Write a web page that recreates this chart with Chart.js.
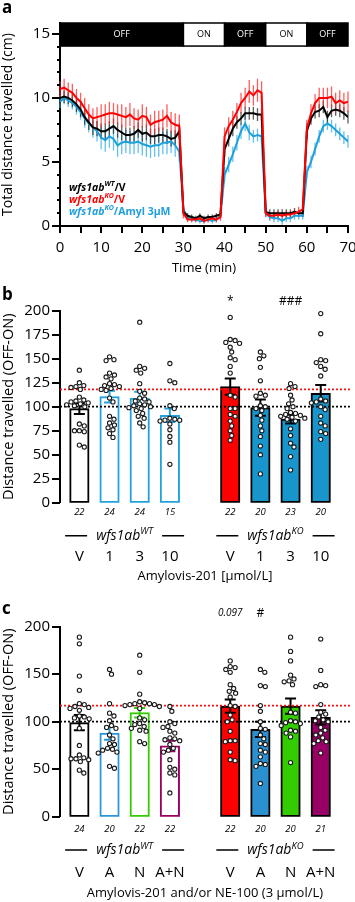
<!DOCTYPE html>
<html><head><meta charset="utf-8">
<script src="https://cdn.jsdelivr.net/npm/chart.js@4.4.1/dist/chart.umd.min.js"></script>
<style>
html,body{margin:0;padding:0;background:#fff;}
#wrap{position:relative;width:355px;height:902px;overflow:hidden;}
canvas{position:absolute;left:0;}
</style></head>
<body><div id="wrap">
<canvas id="ca" width="355" height="280" style="top:0px"></canvas>
<canvas id="cb" width="355" height="310" style="top:280px"></canvas>
<canvas id="cc" width="355" height="312" style="top:590px"></canvas>
</div>
<script>
// ================= DATA =================
// Panel a : time course (min)
const timeMin = [0,1,2,3,4,5,6,7,8,9,10,11,12,13,14,15,16,17,18,19,20,21,22,23,24,25,26,27,28,29,30,31,32,33,34,35,36,37,38,39,40,41,42,43,44,45,46,47,48,49,50,51,52,53,54,55,56,57,58,59,60,61,62,63,64,65,66,67,68,69,70];
const wtV = [10.0,10.1,10.0,9.8,9.5,9.1,8.5,8.1,7.7,7.6,7.4,7.4,7.6,7.8,7.5,7.3,7.1,7.1,7.2,7.5,7.2,7.3,7.0,7.0,7.1,7.1,7.0,6.8,6.9,7.4,
  1.1,0.8,0.7,0.6,0.8,0.6,0.7,0.7,0.8,0.9,
  6.0,6.8,7.6,8.1,8.4,8.8,8.8,8.8,8.7,8.7,
  1.1,1.0,1.0,1.0,1.0,1.0,1.0,1.1,1.0,1.0,
  7.4,8.4,8.9,9.0,9.3,8.5,9.0,9.1,9.0,8.8,8.5];
const koV = [10.7,10.8,10.6,10.4,10.0,9.7,9.2,8.7,8.4,8.5,8.6,8.7,8.8,8.8,8.7,8.6,8.5,8.7,8.4,8.3,8.6,8.5,7.9,8.1,8.2,8.3,8.6,8.1,7.9,7.8,
  1.0,0.5,0.5,0.5,0.6,0.4,0.5,0.6,0.5,0.7,
  7.0,7.8,8.3,8.9,9.6,10.0,10.5,10.2,10.6,10.4,
  1.0,0.8,0.8,0.9,0.8,0.9,0.9,1.0,1.1,1.3,
  7.6,8.8,9.6,10.0,10.0,10.0,10.1,9.6,9.8,9.6,9.7];
const koAmyl = [9.7,10.0,9.8,9.6,9.3,8.9,8.4,8.0,7.7,7.4,6.9,6.7,7.0,6.8,6.3,6.5,6.6,6.5,6.5,6.6,6.4,6.3,6.2,6.3,6.3,6.5,6.5,6.6,6.3,5.8,
  1.3,0.7,0.5,0.5,0.4,0.4,0.5,0.4,0.5,0.8,
  4.0,4.8,5.6,6.5,7.4,8.0,7.3,7.0,7.1,7.0,
  1.0,0.7,0.6,0.6,0.4,0.6,0.6,0.8,0.8,0.8,
  4.2,5.0,6.0,7.0,7.8,8.0,7.8,7.5,7.2,6.9,6.6];
const semWtV = [0.5,0.5,0.5,0.5,0.6,0.6,0.6,0.6,0.6,0.6,0.6,0.6,0.6,0.6,0.6,0.6,0.6,0.6,0.6,0.6,0.6,0.6,0.6,0.6,0.6,0.6,0.6,0.6,0.6,0.6,
  0.3,0.2,0.2,0.2,0.2,0.2,0.2,0.2,0.2,0.3,
  0.6,0.6,0.6,0.5,0.5,0.5,0.5,0.5,0.5,0.5,
  0.3,0.3,0.3,0.3,0.3,0.3,0.3,0.3,0.3,0.3,
  0.6,0.5,0.5,0.5,0.5,0.5,0.5,0.5,0.5,0.5,0.5];
const semKoV = [0.6,0.7,0.6,0.7,0.7,0.7,0.8,0.8,0.8,0.8,0.9,0.8,0.9,0.8,0.8,0.9,0.8,0.9,0.8,0.8,0.9,0.8,0.8,0.9,0.8,0.8,0.9,0.8,0.9,0.9,
  0.4,0.2,0.2,0.2,0.2,0.2,0.2,0.2,0.2,0.3,
  0.7,0.7,0.7,0.7,0.8,0.8,0.9,0.8,0.9,0.9,
  0.3,0.3,0.3,0.3,0.3,0.3,0.3,0.3,0.4,0.4,
  0.7,0.7,0.7,0.8,0.8,0.8,0.8,0.8,0.8,0.8,0.8];
const semKoAmyl = [0.5,0.5,0.5,0.5,0.6,0.6,0.7,0.7,0.8,0.8,0.9,0.9,0.9,0.9,0.9,0.9,0.9,0.9,0.9,0.9,0.9,0.9,0.9,0.9,0.9,0.9,0.9,0.9,0.9,0.8,
  0.4,0.2,0.2,0.2,0.2,0.2,0.2,0.2,0.2,0.3,
  0.6,0.6,0.6,0.6,0.6,0.6,0.6,0.5,0.5,0.5,
  0.3,0.3,0.3,0.3,0.3,0.3,0.3,0.3,0.3,0.3,
  0.5,0.5,0.5,0.5,0.5,0.5,0.5,0.5,0.5,0.5,0.5];
const lightStart = [0,30,40,50,60];
const lightEnd = [30,40,50,60,70];
const lightState = ['OFF','ON','OFF','ON','OFF'];
const seriesGenotype = ['WT','KO','KO'];
const seriesTreatment = ['V','V','Amyl 3µM'];

// Panel b : Amylovis-201 dose
const bDoses = ['V','1','3','10'];
const bMeanWT = [98,110.5,109,91];
const bSemWT = [5.5,6,6.5,7];
const bMeanKO = [121,99,87,114];
const bSemKO = [8.5,8.5,4.5,8.5];
const bNWT = [22,24,24,15];
const bNKO = [22,20,23,20];
const bSigKO = ['*','','###',''];
const bDotsWT = [
  [138,125,122,121,120,118,110,107,106,105,104,103,102,101,100,82,80,75,75,74,60,58],
  [152,149,148,135,133,131,129,124,123,122,121,119,118,117,109,105,90,87,83,81,78,76,72,68],
  [188,142,140,138,135,124,116,114,109,108,106,105,103,102,101,100,99,98,96,93,90,88,83,79],
  [145,127,125,101,98,88,87,86,86,85,82,76,69,63,40]
];
const bDotsKO = [
  [193,170,169,167,166,162,157,151,149,142,135,112,110,98,98,92,90,85,80,75,70,65],
  [157,153,150,141,127,114,112,111,101,100,98,96,91,86,80,75,69,59,50,30],
  [124,121,119,112,107,103,100,98,94,93,92,91,90,89,88,87,85,77,70,62,58,48,34],
  [197,176,149,148,146,142,139,132,108,106,105,104,100,97,90,83,80,74,72,66]
];
const bRefLines = [100,118];

// Panel c : Amylovis-201 and/or NE-100
const cConds = ['V','A','N','A+N'];
const cMeanWT = [99,88,109.5,74.5];
const cSemWT = [8,7,5,5.5];
const cMeanKO = [116.5,92,116.5,104.5];
const cSemKO = [7,8,8,7.5];
const cNWT = [24,20,22,22];
const cNKO = [22,20,20,21];
const cSigKO = ['0.097','#','',''];
const cDotsWT = [
  [189,182,148,133,119,118,116,115,114,112,106,105,104,103,93,75,65,62,61,61,60,58,49,46],
  [155,150,119,109,106,101,96,94,93,86,82,77,76,72,71,70,68,67,53,51],
  [170,152,129,121,120,119,119,118,118,117,116,114,104,102,98,97,95,93,91,90,79,77],
  [116,111,100,98,95,94,90,88,83,82,81,80,76,72,70,68,60,52,50,46,44,25]
];
const cDotsKO = [
  [164,158,157,155,152,139,135,132,130,126,117,116,107,102,100,90,80,80,79,68,60,59],
  [155,152,138,137,117,111,100,93,92,86,82,77,76,70,68,63,56,55,53,35],
  [189,174,164,149,145,143,142,139,110,109,101,100,99,98,96,91,90,88,84,57],
  [187,154,139,138,137,118,110,108,105,102,101,100,94,91,88,86,83,80,79,77,67]
];
const cRefLines = [100,117];

// ================= STYLE =================
const FONT = "'Open Sans', 'DejaVu Sans', sans-serif";
Chart.defaults.font.family = FONT;
Chart.defaults.color = '#000';
const RED = '#ff0000', LINEBLUE = '#1ea0dc', BLUE = '#1896cc', LBLUE = '#22a2dc', GREEN = '#33cc00', PURPLE = '#990066';

function richText(ctx, x, y, parts, align) {
  let w = 0;
  parts.forEach(p => { ctx.font = p.font; p.w = ctx.measureText(p.t).width; w += p.w; });
  let cx = align === 'center' ? x - w / 2 : x;
  ctx.textAlign = 'left';
  parts.forEach(p => { ctx.font = p.font; ctx.fillText(p.t, cx, y + (p.dy || 0)); cx += p.w; });
  return w;
}

const tickMarks = {
  id: 'tickMarks',
  afterDraw(chart, args, opts) {
    const ctx = chart.ctx;
    ctx.save(); ctx.strokeStyle = '#000'; ctx.lineWidth = 2;
    ['x', 'y'].forEach(id => {
      const o = opts[id]; if (!o) return;
      const s = chart.scales[id];
      s.ticks.forEach(t => {
        const len = (t.label !== '' && t.label != null) ? o.major : o.minor;
        if (!len) return;
        const p = Math.round(s.getPixelForValue(t.value));
        ctx.beginPath();
        if (s.isHorizontal()) { ctx.moveTo(p, s.top); ctx.lineTo(p, s.top + len); }
        else { ctx.moveTo(s.right, p); ctx.lineTo(s.right - len, p); }
        ctx.stroke();
      });
    });
    ctx.restore();
  }
};

function panelLetter(ctx, t, x, y) {
  ctx.save(); ctx.fillStyle = '#000'; ctx.font = "bold 17px " + FONT;
  ctx.textAlign = 'left'; ctx.textBaseline = 'alphabetic'; ctx.fillText(t, x, y); ctx.restore();
}

// ================= PANEL A =================
const seriesA = [
  {vals: koV, sem: semKoV, color: RED, err: 'rgba(255,40,40,0.75)'},
  {vals: wtV, sem: semWtV, color: '#000', err: 'rgba(40,40,40,0.75)'},
  {vals: koAmyl, sem: semKoAmyl, color: LINEBLUE, err: 'rgba(60,175,230,0.8)'}
];
const legendColors = ['#000', RED, LINEBLUE];

const panelAPlugin = {
  id: 'panelA',
  beforeDatasetsDraw(chart) {
    const ctx = chart.ctx, xs = chart.scales.x, ys = chart.scales.y;
    ctx.save(); ctx.lineWidth = 1.3;
    chart.data.datasets.slice().reverse().forEach(ds => {
      ctx.strokeStyle = ds.errColor;
      ds.data.forEach((p, i) => {
        const e = ds.sem[i], x = xs.getPixelForValue(p.x);
        ctx.beginPath();
        ctx.moveTo(x, ys.getPixelForValue(p.y - e));
        ctx.lineTo(x, ys.getPixelForValue(p.y + e));
        ctx.stroke();
      });
    });
    ctx.restore();
  },
  afterDraw(chart) {
    const ctx = chart.ctx, xs = chart.scales.x, ys = chart.scales.y, ca = chart.chartArea;
    const y0 = ca.top, y1 = ys.getPixelForValue(14.05);
    ctx.save();
    lightStart.forEach((s, i) => {
      const x0 = xs.getPixelForValue(s), x1 = xs.getPixelForValue(lightEnd[i]);
      const off = lightState[i] === 'OFF';
      ctx.fillStyle = off ? '#000' : '#fff';
      ctx.fillRect(x0, y0, x1 - x0, y1 - y0);
      ctx.strokeStyle = '#000'; ctx.lineWidth = 1.5;
      ctx.strokeRect(x0, y0, x1 - x0, y1 - y0);
      ctx.fillStyle = off ? '#fff' : '#000';
      ctx.font = "9px " + FONT; ctx.textAlign = 'center'; ctx.textBaseline = 'middle';
      ctx.fillText(lightState[i], (x0 + x1) / 2, (y0 + y1) / 2);
    });
    // legend
    ctx.textBaseline = 'middle';
    const lx = xs.getPixelForValue(0) + 9;
    [188, 200, 212].forEach((ly, i) => {
      ctx.fillStyle = legendColors[i];
      richText(ctx, lx, ly, [
        {t: 'wfs1ab', font: "italic bold 10.5px " + FONT},
        {t: seriesGenotype[i], font: "italic bold 7px " + FONT, dy: -4},
        {t: '/' + seriesTreatment[i], font: "bold 10.5px " + FONT}
      ]);
    });
    ctx.restore();
    panelLetter(ctx, 'a', 2, 13);
  }
};

new Chart(document.getElementById('ca'), {
  type: 'line',
  data: {
    datasets: seriesA.map(s => ({
      data: timeMin.map((t, i) => ({x: t, y: s.vals[i]})),
      sem: s.sem, errColor: s.err,
      borderColor: s.color, backgroundColor: s.color,
      borderWidth: 2, pointRadius: 0, tension: 0, fill: false
    }))
  },
  options: {
    responsive: false, animation: false,
    layout: {padding: {top: 23, right: 7, bottom: 0, left: 0}},
    plugins: {legend: {display: false}, tooltip: {enabled: false},
      tickMarks: {x: {major: 7, minor: 7}, y: {major: 8, minor: 3}}},
    scales: {
      x: {type: 'linear', min: 0, max: 70,
        ticks: {stepSize: 5, autoSkip: false, maxRotation: 0, padding: 13, font: {size: 15},
          callback: v => (v % 10 === 0 ? v : '')},
        grid: {display: false, drawTicks: false},
        border: {display: true, color: '#000', width: 2},
        title: {display: true, text: 'Time (min)', font: {size: 13}, padding: {top: 0, bottom: 4}},
        afterFit(s) { s.height = 54; s.paddingLeft = 0; s.paddingRight = 0; }
      },
      y: {type: 'linear', min: 0, max: 15.85,
        ticks: {stepSize: 1, includeBounds: false, autoSkip: false, padding: 10, font: {size: 15},
          callback: v => (v % 5 === 0 ? v : '')},
        grid: {display: false, drawTicks: false},
        border: {display: true, color: '#000', width: 2},
        title: {display: true, text: 'Total distance travelled (cm)', font: {size: 14}, padding: {top: 0, bottom: 0}},
        afterFit(s) { s.width = 60; s.paddingTop = 0; s.paddingBottom = 0; }
      }
    }
  },
  plugins: [panelAPlugin, tickMarks]
});

// ================= PANELS B & C =================
function swarm(chart, groups, D) {
  const xs = chart.scales.x, ys = chart.scales.y;
  const ppx = xs.getPixelForValue(1) - xs.getPixelForValue(0);
  const pts = [];
  groups.forEach(g => {
    const placed = [];
    g.vals.slice().sort((a, b) => b - a).forEach(v => {
      const py = ys.getPixelForValue(v);
      let best = null;
      for (let k = 0; k < 400 && best === null; k++) {
        const cands = k === 0 ? [0] : [k * 0.5, -k * 0.5];
        for (const dx of cands) {
          if (placed.every(p => (p.dx - dx) ** 2 + (p.py - py) ** 2 >= D * D)) { best = dx; break; }
        }
      }
      placed.push({dx: best, py});
      pts.push({x: g.slot + best / ppx, y: v});
    });
  });
  chart.data.datasets[1].data = pts;
  chart.update('none');
}

function makeBarPanel(id, cfg) {
  // build bars from the arrays
  const bars = [];
  cfg.labels.forEach((lab, i) => bars.push({slot: i, mean: cfg.meanWT[i], sem: cfg.semWT[i], n: cfg.nWT[i], dots: cfg.dotsWT[i], fill: '#fff', border: cfg.wtBorders[i], sig: ''}));
  cfg.labels.forEach((lab, i) => bars.push({slot: i + cfg.labels.length + 1, mean: cfg.meanKO[i], sem: cfg.semKO[i], n: cfg.nKO[i], dots: cfg.dotsKO[i], fill: cfg.koFills[i], border: '#000', sig: cfg.sigKO[i]}));
  const tickLabels = cfg.labels.concat(cfg.labels);

  const deco = {
    id: 'barDeco',
    afterDatasetDraw(chart, args) {
      if (args.index !== 0) return;
      const ctx = chart.ctx, xs = chart.scales.x, ys = chart.scales.y, ca = chart.chartArea;
      ctx.save();
      cfg.refLines.forEach((v, i) => {
        ctx.strokeStyle = i === 0 ? '#000' : '#ff1010';
        ctx.lineWidth = 1.7; ctx.setLineDash([2, 2]);
        const y = ys.getPixelForValue(v);
        ctx.beginPath(); ctx.moveTo(ca.left, y); ctx.lineTo(ca.right, y); ctx.stroke();
      });
      ctx.setLineDash([]);
      bars.forEach(b => {
        const x = xs.getPixelForValue(b.slot);
        const yt = ys.getPixelForValue(b.mean + b.sem), yb = ys.getPixelForValue(b.mean - b.sem);
        ctx.strokeStyle = b.border; ctx.lineWidth = 2;
        ctx.beginPath();
        ctx.moveTo(x, yt); ctx.lineTo(x, yb);
        ctx.moveTo(x - 5.5, yt); ctx.lineTo(x + 5.5, yt);
        ctx.moveTo(x - 5.5, yb); ctx.lineTo(x + 5.5, yb);
        ctx.stroke();
      });
      ctx.restore();
    },
    afterDraw(chart) {
      const ctx = chart.ctx, xs = chart.scales.x, ca = chart.chartArea;
      ctx.save(); ctx.fillStyle = '#000'; ctx.textBaseline = 'middle'; ctx.textAlign = 'center';
      // n counts
      ctx.font = "italic 9.5px " + FONT;
      bars.forEach(b => ctx.fillText(String(b.n), xs.getPixelForValue(b.slot), ca.bottom + cfg.countOff));
      // significance
      bars.forEach((b, i) => {
        if (!b.sig) return;
        ctx.font = (b.sig.charAt(0) === '0' ? "italic 10px " : "12px ") + FONT;
        ctx.textAlign = 'center';
        ctx.fillText(b.sig, xs.getPixelForValue(b.slot), ca.top - cfg.sigOff);
      });
      // genotype group labels
      const gy = ca.bottom + cfg.groupOff;
      ['WT', 'KO'].forEach((g, gi) => {
        const first = bars[gi * 4].slot, last = bars[gi * 4 + 3].slot;
        const cx = (xs.getPixelForValue(first) + xs.getPixelForValue(last)) / 2;
        const w = richText(ctx, cx, gy, [
          {t: 'wfs1ab', font: "italic 14px " + FONT},
          {t: g, font: "italic 9.5px " + FONT, dy: -4}
        ], 'center');
        ctx.strokeStyle = '#000'; ctx.lineWidth = 1.5;
        ctx.beginPath();
        ctx.moveTo(cx - w / 2 - 9, gy); ctx.lineTo(cx - w / 2 - 31, gy);
        ctx.moveTo(cx + w / 2 + 9, gy); ctx.lineTo(cx + w / 2 + 31, gy);
        ctx.stroke();
      });
      ctx.restore();
      panelLetter(ctx, cfg.letter, 2, cfg.letterY);
    }
  };

  const chart = new Chart(document.getElementById(id), {
    type: 'bar',
    data: {
      datasets: [
        {type: 'bar', order: 2, data: bars.map(b => ({x: b.slot, y: b.mean})),
          backgroundColor: bars.map(b => b.fill), borderColor: bars.map(b => b.border),
          borderWidth: 2, borderSkipped: false, barThickness: 19.5},
        {type: 'scatter', order: 1, data: [],
          pointRadius: 2.1, pointBorderWidth: 1.1, pointBackgroundColor: '#fff', pointBorderColor: '#1a1a1a'}
      ]
    },
    options: {
      responsive: false, animation: false,
      layout: {padding: {top: cfg.top, right: 0, bottom: 0, left: 0}},
      plugins: {legend: {display: false}, tooltip: {enabled: false},
        tickMarks: {y: {major: 8, minor: 8}}},
      scales: {
        x: {type: 'linear', min: -0.642, max: 8.967, offset: false,
          afterBuildTicks(s) { s.ticks = bars.map(b => ({value: b.slot})); },
          ticks: {autoSkip: false, maxRotation: 0, padding: cfg.tickPad, font: {size: 15},
            callback: (v, i) => tickLabels[i]},
          grid: {display: false, drawTicks: false, offset: false},
          border: {display: false},
          title: {display: true, text: cfg.xTitle, font: {size: 13}, padding: {top: 0, bottom: cfg.titlePad}},
          afterFit(s) { s.height = cfg.xH; s.paddingLeft = 0; s.paddingRight = 0; }
        },
        y: {type: 'linear', min: 0, max: 200,
          ticks: {stepSize: cfg.yStep, padding: 10, font: {size: 15}},
          grid: {display: false, drawTicks: false},
          border: {display: true, color: '#000', width: 2},
          title: {display: true, text: 'Distance travelled (OFF-ON)', font: {size: 14.5}, padding: {top: 0, bottom: 0}},
          afterFit(s) { s.width = 60; s.paddingTop = 0; s.paddingBottom = 0; }
        }
      }
    },
    plugins: [deco, tickMarks]
  });
  swarm(chart, bars.map(b => ({slot: b.slot, vals: b.dots})), 5);
}

makeBarPanel('cb', {
  labels: bDoses, meanWT: bMeanWT, semWT: bSemWT, meanKO: bMeanKO, semKO: bSemKO,
  nWT: bNWT, nKO: bNKO, dotsWT: bDotsWT, dotsKO: bDotsKO, sigKO: bSigKO, refLines: bRefLines,
  wtBorders: ['#000', LBLUE, LBLUE, LBLUE], koFills: [RED, BLUE, BLUE, BLUE],
  xTitle: 'Amylovis-201 [µmol/L]', yStep: 25,
  top: 30.7, xH: 87.3, tickPad: 45, titlePad: 5.5,
  countOff: 9.4, groupOff: 33, sigOff: 9, letter: 'b', letterY: 20
});

makeBarPanel('cc', {
  labels: cConds, meanWT: cMeanWT, semWT: cSemWT, meanKO: cMeanKO, semKO: cSemKO,
  nWT: cNWT, nKO: cNKO, dotsWT: cDotsWT, dotsKO: cDotsKO, sigKO: cSigKO, refLines: cRefLines,
  wtBorders: ['#000', '#2a96d8', GREEN, PURPLE], koFills: [RED, '#2a90cf', GREEN, PURPLE],
  xTitle: 'Amylovis-201 and/or NE-100 (3 µmol/L)', yStep: 50,
  top: 36.7, xH: 85.3, tickPad: 47, titlePad: 0.9,
  countOff: 13, groupOff: 33.3, sigOff: 13.4, letter: 'c', letterY: 23.5
});
</script>
</body></html>
